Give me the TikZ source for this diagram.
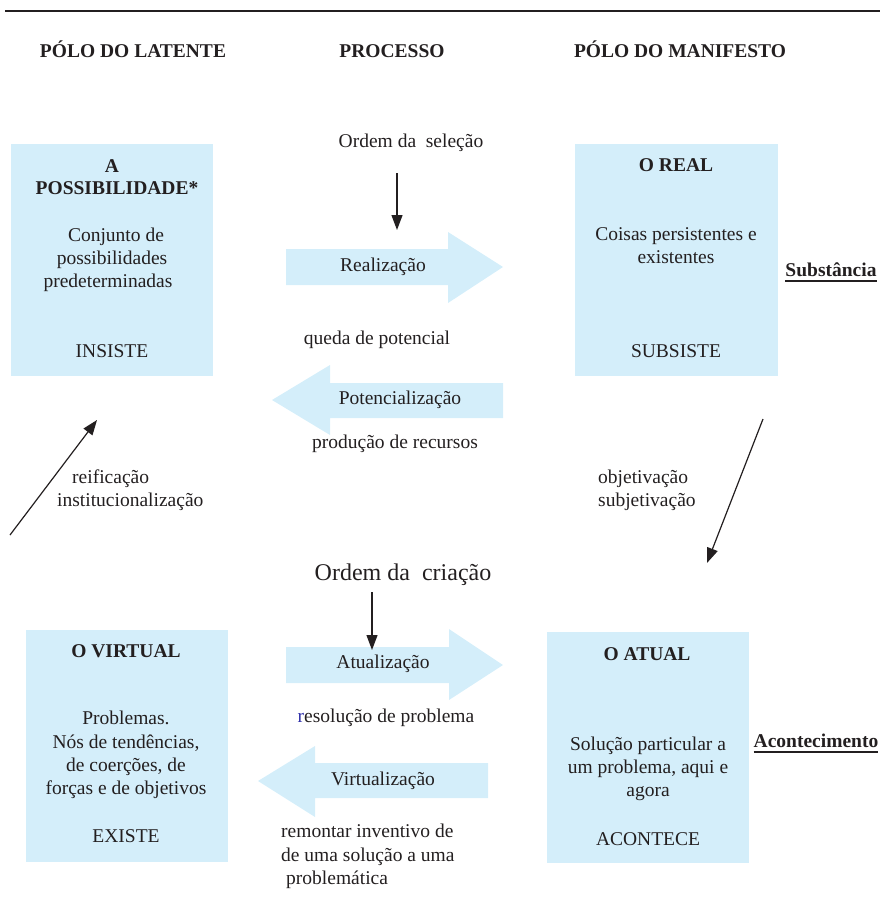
\documentclass[tikz,border=0pt]{standalone}
\usepackage{fontspec}
\setmainfont{Liberation Serif}
\usetikzlibrary{arrows.meta}
\definecolor{boxblue}{RGB}{212,238,250}
\definecolor{ink}{RGB}{35,31,32}
\definecolor{rblue}{RGB}{50,50,170}
\begin{document}
\begin{tikzpicture}[x=1pt,y=-1pt,
  txt/.style={anchor=base,inner sep=0pt,text=ink,font=\fontsize{19.5}{23}\selectfont},
  ltxt/.style={txt,anchor=base west},
  btxt/.style={txt,font=\fontsize{19.5}{23}\selectfont\bfseries},
  bigtxt/.style={txt,font=\fontsize{24}{28}\selectfont},
  panel/.style={fill=boxblue,draw=none},
  blockarrow/.style={fill=boxblue,draw=none},
  conn/.style={draw=ink,line width=1.2pt,-{Triangle[length=15pt,width=11pt]}}]
\useasboundingbox (0,0) rectangle (880,902);
% top rule
\coordinate (rl) at (5,11);
\coordinate (rr) at (880,11);
\draw[ink,line width=1.5pt] (rl) -- (rr);
% headers
\node[btxt] (h1) at (133,57) {PÓLO DO LATENTE};
\node[btxt] (h2) at (392,57) {PROCESSO};
\node[btxt] (h3) at (680,57) {PÓLO DO MANIFESTO};
% panels
\fill[panel] (11,144) rectangle (213,376);
\fill[panel] (575,144) rectangle (778,376);
\fill[panel] (26,630) rectangle (228,862);
\fill[panel] (547,632) rectangle (749,863);
% box 1
\node[btxt] (p1a) at (112,172) {A};
\node[btxt] (p1b) at (117,194) {POSSIBILIDADE*};
\node[txt] (p1c) at (116,241) {Conjunto de};
\node[txt] (p1d) at (112,264) {possibilidades};
\node[txt] (p1e) at (108,287) {predeterminadas};
\node[txt] (p1f) at (112,357) {INSISTE};
% box 2
\node[btxt] (p2a) at (676,171) {O REAL};
\node[txt] (p2b) at (676,240) {Coisas persistentes e};
\node[txt] (p2c) at (676,263) {existentes};
\node[txt] (p2d) at (676,357) {SUBSISTE};
\node[btxt] (subst) at (831,276) {Substância};
\draw[ink,line width=1.4pt] ([yshift=-5pt]subst.base west) -- ([yshift=-5pt]subst.base east);
% box 3
\node[btxt] (p3a) at (126,657) {O VIRTUAL};
\node[txt] (p3b) at (126,724) {Problemas.};
\node[txt] (p3c) at (126,748) {Nós de tendências,};
\node[txt] (p3d) at (126,771) {de coerções, de};
\node[txt] (p3e) at (126,794) {forças e de objetivos};
\node[txt] (p3f) at (126,842) {EXISTE};
% box 4
\node[btxt] (p4a) at (647,660) {O ATUAL};
\node[txt] (p4b) at (648,750) {Solução particular a};
\node[txt] (p4c) at (648,773) {um problema, aqui e};
\node[txt] (p4d) at (648,796) {agora};
\node[txt] (p4e) at (648,845) {ACONTECE};
\node[btxt] (acont) at (816,747) {Acontecimento};
\draw[ink,line width=1.4pt] ([yshift=-5pt]acont.base west) -- ([yshift=-5pt]acont.base east);
% block arrows
\fill[blockarrow] (286,249) -- (448,249) -- (448,232) -- (503,267) -- (448,303) -- (448,285) -- (286,285) -- cycle;
\fill[blockarrow] (503,383) -- (330,383) -- (330,365) -- (272,400) -- (330,435) -- (330,418) -- (503,418) -- cycle;
\fill[blockarrow] (286,647) -- (449,647) -- (449,629) -- (503,665) -- (449,700) -- (449,683) -- (286,683) -- cycle;
\fill[blockarrow] (488,763) -- (315,763) -- (315,746) -- (258,781) -- (315,817) -- (315,798) -- (488,798) -- cycle;
% process texts
\node[txt] (sel) at (411,147) {Ordem da\ \ seleção};
\node[txt] (real) at (383,271) {Realização};
\node[txt] (queda) at (377,344) {queda de potencial};
\node[txt] (pot) at (400,404) {Potencialização};
\node[txt] (prod) at (395,448) {produção de recursos};
\node[bigtxt] (cri) at (403,580) {Ordem da\ \ criação};
\node[txt] (atu) at (383,668) {Atualização};
\node[txt] (reso) at (386,722) {\textcolor{rblue}{r}esolução de problema};
\node[txt] (virt) at (383,785) {Virtualização};
\node[ltxt] (rem1) at (281,837) {remontar inventivo de};
\node[ltxt] (rem2) at (281,861) {de uma solução a uma};
\node[ltxt] (rem3) at (286,884) {problemática};
% diagonal labels
\node[ltxt] (reif) at (72,483) {reificação};
\node[ltxt] (inst) at (57,506) {institucionalização};
\node[ltxt] (obj) at (598,483) {objetivação};
\node[ltxt] (subj) at (598,506) {subjetivação};
% connectors
\coordinate (s1) at (397,173);
\coordinate (s2) at (397,230);
\draw[conn] (s1) -- (s2);
\coordinate (c1) at (372,592);
\coordinate (c2) at (372,650);
\draw[conn] (c1) -- (c2);
\coordinate (l1) at (10,535);
\coordinate (l2) at (97,420);
\draw[conn] (l1) -- (l2);
\coordinate (r1) at (763,419);
\coordinate (r2) at (707,563);
\draw[conn] (r1) -- (r2);
\end{tikzpicture}
\end{document}
